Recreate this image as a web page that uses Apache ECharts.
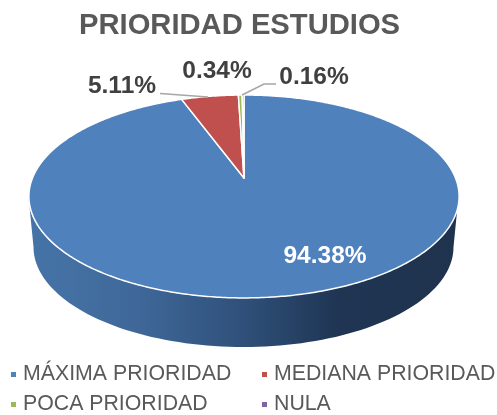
<!DOCTYPE html>
<html>
<head>
<meta charset="utf-8">
<style>html,body{margin:0;padding:0;background:#fff}#c{width:497px;height:415px}</style>
<script src="https://cdn.jsdelivr.net/npm/echarts@6/dist/echarts.min.js"></script>
</head>
<body>
<div id="c"></div>
<script>
const chartTitle = 'PRIORIDAD ESTUDIOS';
const categories = ['MÁXIMA PRIORIDAD', 'MEDIANA PRIORIDAD', 'POCA PRIORIDAD', 'NULA'];
const values = [94.38, 5.11, 0.34, 0.16];
const colors = ['#4f81bd', '#c0504d', '#9bbb59', '#8064a2'];
const labelSpots = [[325, 256, '#ffffff'], [122, 86, '#404040'], [217, 71, '#404040'], [314, 77, '#404040']];
const leaders = [null, [[160, 93.5], [208, 97]], null, [[242, 95], [264, 84], [276, 84]]];

const total = values.reduce((a, b) => a + b, 0);
const F = 'Liberation Sans, Arial, sans-serif';
// perspective projection of the unit disc (v = 1 is the far edge)
const cx = 244, k = 0.182, A = 211.5, yc = 178, b = -65.7;
function project(theta) {
  const u = Math.sin(theta), v = Math.cos(theta), w = 1 + k * v;
  return [cx + A * u / w, (yc + b * v) / w];
}
function sector(a0, a1) {
  const pts = [[cx, yc]];
  const n = Math.max(2, Math.ceil((a1 - a0) / 0.01));
  for (let i = 0; i <= n; i++) pts.push(project(a0 + (a1 - a0) * i / n));
  return pts;
}
function wallPoints() {
  const pts = [];
  for (let d = 0; d <= 180; d += 2) {
    const t = d * Math.PI / 180;
    pts.push([243.5 + 215 * Math.cos(t), 196.5 + 101.5 * Math.sin(t)]);
  }
  for (let d = 180; d >= 0; d -= 2) {
    const t = d * Math.PI / 180;
    pts.push([243.5 + 210 * Math.cos(t), 247 + 100 * Math.sin(t)]);
  }
  return pts;
}
function renderer(idx) {
  return function (params, api) {
    const value = api.value(0);
    const before = values.slice(0, idx).reduce((a, x) => a + x, 0);
    const a0 = before / total * 2 * Math.PI;
    const a1 = (before + value) / total * 2 * Math.PI;
    const children = [];
    if (idx === 0) {
      children.push({
        type: 'polygon', shape: { points: wallPoints() },
        style: {
          fill: {
            type: 'linear', x: 28, y: 0, x2: 459, y2: 0, global: true,
            colorStops: [
              { offset: 0, color: '#4674a8' },
              { offset: 0.25, color: '#3f6899' },
              { offset: 0.5, color: '#2f507a' },
              { offset: 0.72, color: '#1f3553' },
              { offset: 1, color: '#1f334e' }
            ]
          }
        }
      });
    }
    children.push({
      type: 'polygon', shape: { points: sector(a0, a1) },
      style: { fill: colors[idx], stroke: '#ffffff', lineWidth: 1.5, lineJoin: 'round' }
    });
    return { type: 'group', children: children };
  };
}
function overlay(params, api) {
  const children = [];
  values.forEach((v, i) => {
    if (leaders[i]) {
      children.push({
        type: 'polyline', shape: { points: leaders[i] },
        style: { fill: 'none', stroke: '#a6a6a6', lineWidth: 1.5 }
      });
    }
    children.push({
      type: 'text', x: labelSpots[i][0], y: labelSpots[i][1],
      style: {
        text: v.toFixed(2) + '%', fill: labelSpots[i][2], font: 'bold 24.5px ' + F,
        align: 'center', verticalAlign: 'middle'
      }
    });
  });
  return { type: 'group', children: children };
}
const series = categories.map((name, i) => ({
  type: 'custom', name: name, coordinateSystem: 'none',
  data: [[values[i]]], renderItem: renderer(i), silent: true,
  itemStyle: { color: colors[i] }, z: 2 + (i === 0 ? 0 : 1), animation: false
}));
series.push({
  type: 'custom', name: 'labels', coordinateSystem: 'none', data: [[0]],
  renderItem: overlay, silent: true, z: 5, animation: false
});
const legendBase = {
  orient: 'vertical', top: 364, padding: 0, height: 51, icon: 'rect', itemWidth: 5, itemHeight: 5, itemGap: 9,
  selectedMode: false,
  textStyle: { fontFamily: F, fontSize: 21.3, color: '#595959', padding: [0, 0, 0, 2] }
};
const chart = echarts.init(document.getElementById('c'), null, { renderer: 'canvas' });
chart.setOption({
  animation: false,
  backgroundColor: '#ffffff',
  color: colors,
  title: {
    text: chartTitle, left: 74, top: 6,
    textStyle: { fontFamily: F, fontSize: 29.2, fontWeight: 'bold', color: '#595959' }
  },
  legend: [
    Object.assign({}, legendBase, { left: 11, data: [categories[0], categories[2]] }),
    Object.assign({}, legendBase, { left: 262, data: [categories[1], categories[3]] })
  ],
  series: series
});
</script>
</body>
</html>
